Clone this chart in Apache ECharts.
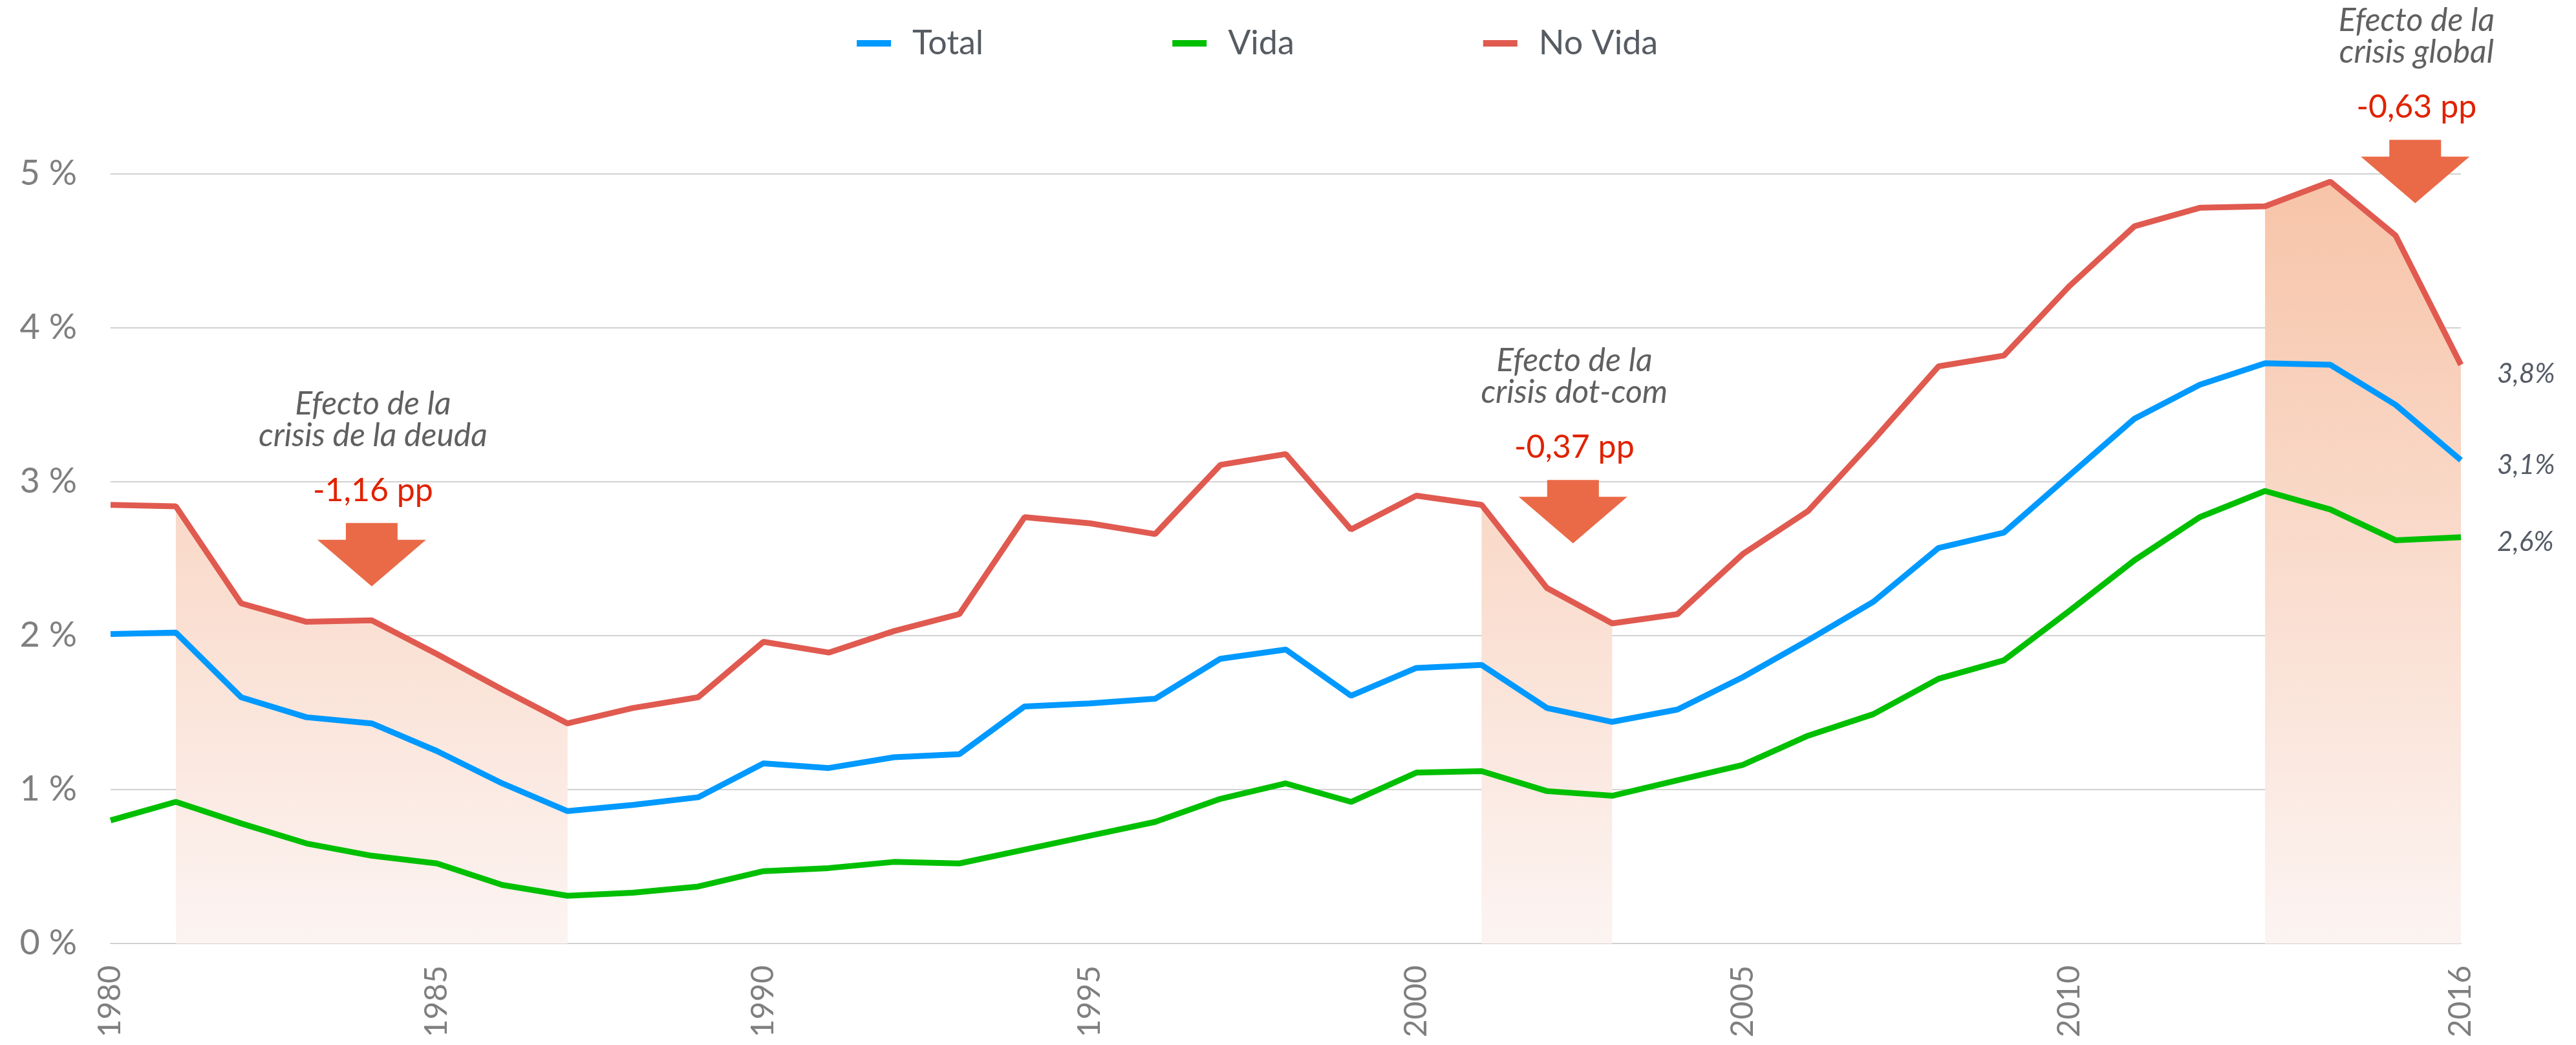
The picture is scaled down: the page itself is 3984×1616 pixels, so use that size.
<!DOCTYPE html>
<html>
<head>
<meta charset="utf-8">
<script src="https://cdn.jsdelivr.net/npm/echarts@6/dist/echarts.min.js"></script>
<style>
    html, body { margin: 0; padding: 0; background: #fff; }
    #chart { width: 3984px; height: 1616px; }
</style>
</head>
<body>
<div id="chart"></div>
<script>
// data
var years = ['1980','1981','1982','1983','1984','1985','1986','1987','1988','1989',
             '1990','1991','1992','1993','1994','1995','1996','1997','1998','1999',
             '2000','2001','2002','2003','2004','2005','2006','2007','2008','2009',
             '2010','2011','2012','2013','2014','2015','2016'];
var xTickYears = ['1980','1985','1990','1995','2000','2005','2010','2016'];

var total  = [2.01,2.02,1.60,1.47,1.43,1.25,1.04,0.86,0.90,0.95,1.17,1.14,1.21,1.23,1.54,1.56,1.59,1.85,1.91,1.61,
              1.79,1.81,1.53,1.44,1.52,1.73,1.97,2.22,2.57,2.67,3.04,3.41,3.63,3.77,3.76,3.50,3.14];
var vida   = [0.80,0.92,0.78,0.65,0.57,0.52,0.38,0.31,0.33,0.37,0.47,0.49,0.53,0.52,0.61,0.70,0.79,0.94,1.04,0.92,
              1.11,1.12,0.99,0.96,1.06,1.16,1.35,1.49,1.72,1.84,2.16,2.49,2.77,2.94,2.82,2.62,2.64];
var noVida = [2.85,2.84,2.21,2.09,2.10,1.88,1.65,1.43,1.53,1.60,1.96,1.89,2.03,2.14,2.77,2.73,2.66,3.11,3.18,2.69,
              2.91,2.85,2.31,2.08,2.14,2.53,2.81,3.27,3.75,3.82,4.27,4.66,4.78,4.79,4.95,4.60,3.76];

// crisis periods, shaded under No Vida
var crisisRanges = [[1981, 1987], [2001, 2003], [2013, 2016]];
var crisisTitles = [['Efecto de la', 'crisis de la deuda'], ['Efecto de la', 'crisis dot-com'], ['Efecto de la', 'crisis global']];
var crisisDrops  = ['-1,16 pp', '-0,37 pp', '-0,63 pp'];
// arrow tip as [year, value]
var crisisArrowTips = [[1984, 2.32], [2002.4, 2.60], [2015.3, 4.81]];

var chartObj = {
    init: function(){
        this.chart = echarts.init(document.getElementById('chart'));
        this.chart.setOption(this.baseOption());
        this.chart.setOption({ graphic: this.annotations() });
    },
    shadeData: function(){
        return noVida.map(function(v, i){
            var y = +years[i];
            for (var k = 0; k < crisisRanges.length; k++) {
                if (y >= crisisRanges[k][0] && y <= crisisRanges[k][1]) return v;
            }
            return null;
        });
    },
    endLabel: function(dy){
        return {
            show: true,
            distance: 56,
            offset: [0, dy],
            color: '#555b66',
            fontFamily: 'Lato',
            fontStyle: 'italic',
            fontSize: 42,
            formatter: function(p){
                return p.value.toFixed(1).replace('.', ',') + '%';
            }
        };
    },
    lineSeries: function(name, data, color, dy){
        return {
            name: name,
            type: 'line',
            data: data,
            symbol: 'none',
            z: 3,
            itemStyle: { color: color },
            lineStyle: { width: 9, color: color },
            endLabel: this.endLabel(dy)
        };
    },
    baseOption: function(){
        var font = 'Lato';
        return {
            animation: false,
            backgroundColor: '#ffffff',
            legend: {
                data: ['Total', 'Vida', 'No Vida'],
                left: 1320,
                top: 36,
                icon: 'rect',
                itemWidth: 53,
                itemHeight: 10,
                itemGap: 292,
                textStyle: { fontFamily: font, fontSize: 52, color: '#575c63', padding: [0, 0, 0, 28] }
            },
            grid: { left: 171, right: 178, top: 269, bottom: 157 },
            xAxis: {
                type: 'category',
                data: years,
                boundaryGap: false,
                axisTick: { show: false },
                axisLine: { lineStyle: { color: '#d2d2d2', width: 2 } },
                axisLabel: {
                    rotate: 90,
                    margin: 34,
                    fontFamily: font,
                    fontSize: 48,
                    color: '#7f7f7f',
                    interval: function(index, value){
                        return xTickYears.indexOf(value) >= 0;
                    }
                }
            },
            yAxis: {
                type: 'value',
                min: 0,
                max: 5,
                interval: 1,
                axisLine: { show: false },
                axisTick: { show: false },
                splitLine: { lineStyle: { color: '#d2d2d2', width: 2 } },
                axisLabel: {
                    margin: 52,
                    fontFamily: font,
                    fontSize: 54,
                    color: '#7f7f7f',
                    formatter: '{value} %'
                }
            },
            series: [
                {
                    name: 'shade',
                    type: 'line',
                    data: this.shadeData(),
                    symbol: 'none',
                    z: 1,
                    lineStyle: { width: 0 },
                    areaStyle: {
                        opacity: 1,
                        color: new echarts.graphic.LinearGradient(0, 0, 0, 1, [
                            { offset: 0, color: '#f7c4a8' },
                            { offset: 1, color: '#fcf4f2' }
                        ])
                    }
                },
                this.lineSeries('Total', total, '#0099ff', 8),
                this.lineSeries('Vida', vida, '#00bf00', 8),
                this.lineSeries('No Vida', noVida, '#e05a50', 14)
            ]
        };
    },
    annotations: function(){
        var chart = this.chart,
            x0 = chart.convertToPixel({ xAxisIndex: 0 }, years[0]),
            x1 = chart.convertToPixel({ xAxisIndex: 0 }, years[1]),
            step = x1 - x0,
            els = [];

        crisisArrowTips.forEach(function(tip, k){
            var cx = x0 + (tip[0] - 1980) * step,
                ty = chart.convertToPixel({ yAxisIndex: 0 }, tip[1]);

            els.push({
                type: 'polygon',
                z: 10,
                shape: { points: [[cx - 40, ty - 98], [cx + 40, ty - 98], [cx + 40, ty - 72], [cx + 84, ty - 72],
                                  [cx, ty], [cx - 84, ty - 72], [cx - 40, ty - 72]] },
                style: { fill: '#ea6a47' }
            });
            els.push({
                type: 'text', z: 10,
                style: { x: cx + 2, y: ty - 132 - 16, text: crisisDrops[k], align: 'center', verticalAlign: 'middle',
                         font: '50px Lato', fill: '#e02200' }
            });
            els.push({
                type: 'text', z: 10,
                style: { x: cx + 2, y: ty - 266 - 16, text: crisisTitles[k][0], align: 'center', verticalAlign: 'middle',
                         font: 'italic 50px Lato', fill: '#606060' }
            });
            els.push({
                type: 'text', z: 10,
                style: { x: cx + 2, y: ty - 217 - 16, text: crisisTitles[k][1], align: 'center', verticalAlign: 'middle',
                         font: 'italic 50px Lato', fill: '#606060' }
            });
        });
        return els;
    }
};

chartObj.init();
</script>
</body>
</html>
